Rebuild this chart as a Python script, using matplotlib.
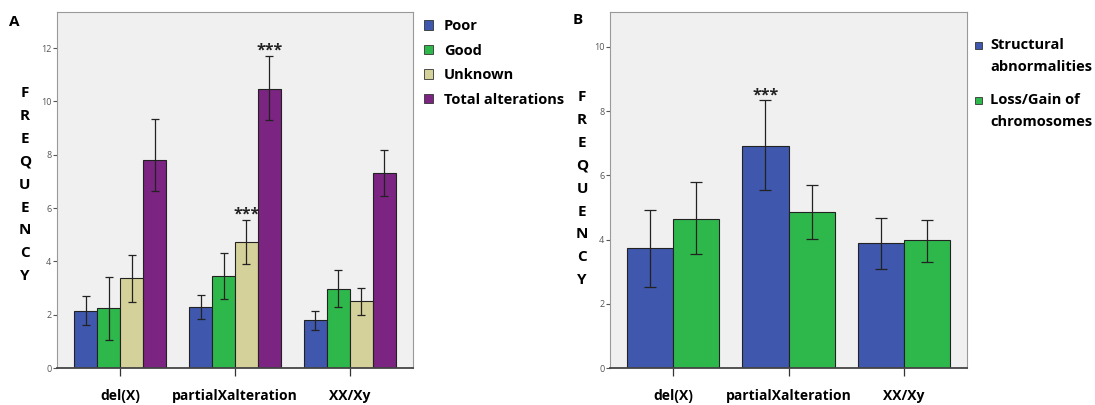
import matplotlib
matplotlib.use('AGG')

import numpy as np
import matplotlib.pyplot as plt
from matplotlib.patches import Patch, Rectangle

plt.rcParams['font.family'] = ['Open Sans', 'DejaVu Sans']

groups = ['del(X)', 'partialXalteration', 'XX/Xy']

# panel A: frequency by outcome, with 95% CI bounds
a_names = ['Poor', 'Good', 'Unknown', 'Total alterations']
a_mean = [[2.15, 2.29, 1.79],
          [2.25, 3.46, 2.96],
          [3.38, 4.73, 2.50],
          [7.80, 10.48, 7.31]]
a_low = [[1.60, 1.84, 1.44],
         [1.05, 2.60, 2.29],
         [2.49, 3.90, 2.00],
         [6.64, 9.30, 6.44]]
a_high = [[2.70, 2.74, 2.12],
          [3.42, 4.30, 3.66],
          [4.24, 5.55, 2.99],
          [9.33, 11.70, 8.19]]
a_colors = ['#3f57ad', '#2eb84c', '#d5d19a', '#7b2482']
a_stars = [(1, 2), (1, 3)]  # (group, series)

# panel B: structural vs numerical changes
b_names = ['Structural\nabnormalities', 'Loss/Gain of\nchromosomes']
b_mean = [[3.73, 6.93, 3.88],
          [4.65, 4.86, 3.98]]
b_low = [[2.52, 5.56, 3.09],
         [3.55, 4.02, 3.31]]
b_high = [[4.93, 8.34, 4.67],
          [5.78, 5.69, 4.62]]
b_colors = ['#3f57ad', '#2eb84c']
b_stars = [(1, 0)]


def style_axes(ax, ymax, yticks):
  ax.set_facecolor('#f0f0f0')
  ax.set_ylim(0, ymax)
  ax.set_xlim(-0.55, 2.55)
  ax.set_yticks(yticks)
  ax.set_xticks(range(len(groups)))
  ax.set_xticklabels(groups, fontsize=10, fontweight='bold')
  ax.tick_params(axis='y', labelsize=6.5, labelcolor='#555555', length=3,
                 width=0.8, color='#555555', pad=1)
  ax.tick_params(axis='x', length=6, width=0.9, color='#333333', pad=9)
  for s in ['top', 'right', 'left']:
    ax.spines[s].set_color('#999999')
    ax.spines[s].set_linewidth(0.8)
  ax.spines['bottom'].set_color('#444444')
  ax.spines['bottom'].set_linewidth(1.3)


def draw_bars(ax, mean, low, high, colors, stars, width, capsize):
  x = np.arange(len(groups))
  n = len(mean)
  for i in range(n):
    pos = x + (i - (n - 1) / 2) * width
    m = np.array(mean[i])
    err = [m - np.array(low[i]), np.array(high[i]) - m]
    ax.bar(pos, m, width, color=colors[i], edgecolor='#222222', linewidth=0.8,
           zorder=2)
    ax.errorbar(pos, m, yerr=err, fmt='none', ecolor='#222222',
                elinewidth=0.9, capsize=capsize, capthick=0.9, zorder=3)
  # significance marks sit just above the upper CI cap
  for g, i in stars:
    pos = g + (i - (n - 1) / 2) * width
    ax.annotate('***', (pos, high[i][g]), xytext=(0, 3.6),
                textcoords='offset points', ha='center', va='center',
                fontsize=11.5, fontweight='bold', color='#222222')


def freq_label(fig, xpx, ypx):
  for k, ch in enumerate('FREQUENCY'):
    fig.text(xpx / 1095, 1 - (ypx + k * 22.9) / 405, ch, ha='center',
             va='center', fontsize=11, fontweight='bold')


def px(x, y):
  return x / 1095, 1 - y / 405


fig = plt.figure(figsize=(10.95, 4.05), dpi=100)

ax_a = fig.add_axes([57 / 1095, 37 / 405, 356 / 1095, 356 / 405])
style_axes(ax_a, 13.35, range(0, 13, 2))
draw_bars(ax_a, a_mean, a_low, a_high, a_colors, a_stars, 0.2, 3)

ax_b = fig.add_axes([610 / 1095, 37 / 405, 357 / 1095, 356 / 405])
style_axes(ax_b, 11.09, range(0, 11, 2))
draw_bars(ax_b, b_mean, b_low, b_high, b_colors, b_stars, 0.4, 4.5)

freq_label(fig, 25, 93)
freq_label(fig, 582, 97)

fig.text(*px(14, 22), 'A', fontsize=11, fontweight='bold',
         ha='center', va='center')
fig.text(*px(578, 20), 'B', fontsize=11, fontweight='bold',
         ha='center', va='center')

handles_a = [Patch(facecolor=c, edgecolor='#333333', linewidth=0.6)
             for c in a_colors]
fig.legend(handles_a, a_names, loc='upper left',
           bbox_to_anchor=(411 / 1095, 1 - 6 / 405), frameon=False,
           prop={'weight': 'bold', 'size': 10.5}, handlelength=0.6,
           handleheight=0.6, handletextpad=0.75, labelspacing=0.72)

# legend B by hand: square lines up with the first line of a wrapped label
for k, (name, c) in enumerate(zip(b_names, b_colors)):
  y0 = 45 + k * 55
  sx, sy = px(975, y0 + 3.5)
  fig.patches.append(Rectangle((sx, sy), 7 / 1095, 7 / 405, facecolor=c,
                               edgecolor='#333333', linewidth=0.6,
                               transform=fig.transFigure, figure=fig))
  for j, line in enumerate(name.split('\n')):
    fig.text(*px(990, y0 + j * 22), line, fontsize=10.5, fontweight='bold',
             ha='left', va='center')

fig.savefig('out.png', dpi=100)
